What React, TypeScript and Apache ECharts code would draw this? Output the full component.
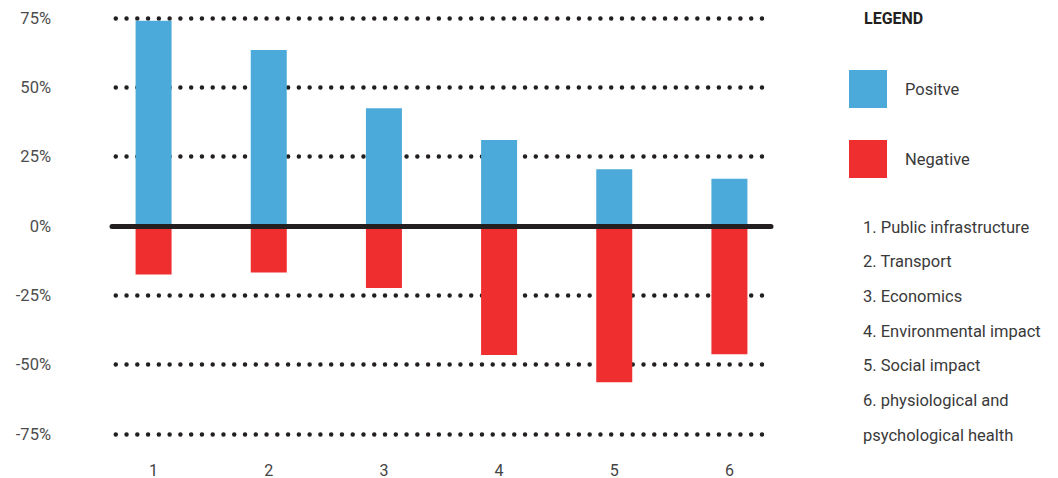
import React, { useEffect, useRef } from "react";
import * as echarts from "echarts";

const categories = ["1", "2", "3", "4", "5", "6"];
const positiveValues = [74, 63.5, 42.5, 31, 20.5, 17];
const negativeValues = [-17.5, -16.8, -22.4, -46.5, -56.3, -46.2];
const seriesNames = ["Positve", "Negative"];
const categoryDescriptions = [
  "1. Public infrastructure",
  "2. Transport",
  "3. Economics",
  "4. Environmental impact",
  "5. Social impact",
  "6. physiological and",
  "psychological health",
];

const BLUE = "#4BAAD9";
const RED = "#EE2E2F";
const DARK = "#231F20";
const FONT = "Roboto";

export default function App() {
  const ref = useRef<HTMLDivElement>(null);
  useEffect(() => {
    if (!ref.current) return;
    const chart = echarts.init(ref.current, undefined, { renderer: "svg" });
    const graphics: any[] = [
      {
        type: "text",
        left: 864,
        top: 10,
        style: {
          text: "LEGEND",
          fill: DARK,
          font: `bold 16px ${FONT}`,
        },
      },
    ];
    categoryDescriptions.forEach((t, i) => {
      graphics.push({
        type: "text",
        x: 863,
        y: 227 + i * 34.7,
        style: {
          text: t,
          fill: "#3a3a3a",
          font: `16.5px ${FONT}`,
          textVerticalAlign: "middle",
          verticalAlign: "middle",
        },
      });
    });
    chart.setOption({
      animation: false,
      textStyle: { fontFamily: FONT },
      grid: [
        { left: 112, width: 659, top: 18, height: 416 },
        { left: 96, width: 691, top: 18, height: 416 },
      ],
      legend: {
        orient: "vertical",
        left: 849,
        top: 70,
        padding: 0,
        itemWidth: 38,
        itemHeight: 38,
        itemGap: 32,
        icon: "rect",
        data: seriesNames,
        textStyle: {
          fontSize: 16.5,
          color: "#3a3a3a",
          fontFamily: FONT,
          padding: [0, 0, 0, 13],
        },
      },
      xAxis: [
        {
          type: "value",
          gridIndex: 0,
          min: 0,
          max: 1,
          z: 5,
          axisLine: { show: true, onZero: true, lineStyle: { color: DARK, width: 5 } },
          axisTick: { show: false },
          axisLabel: { show: false },
          splitLine: { show: false },
        },
        {
          type: "category",
          gridIndex: 1,
          data: categories,
          axisLine: { show: false },
          axisTick: { show: false },
          axisLabel: { fontSize: 16, color: "#444", margin: 28, fontFamily: FONT },
          splitLine: { show: false },
        },
      ],
      yAxis: [
        {
          type: "value",
          gridIndex: 0,
          min: -75,
          max: 75,
          interval: 25,
          axisLine: { show: false },
          axisTick: { show: false },
          axisLabel: {
            formatter: "{value}%",
            fontSize: 16.5,
            color: "#4d4d4d",
            margin: 61,
            fontFamily: FONT,
          },
          splitLine: {
            show: true,
            lineStyle: {
              color: DARK,
              width: 4.5,
              type: [0, 10.77],
              cap: "round",
              dashOffset: 7.27,
            },
          },
        },
        {
          type: "value",
          gridIndex: 1,
          min: -75,
          max: 75,
          interval: 25,
          show: false,
          splitLine: { show: false },
        },
      ],
      series: [
        {
          name: seriesNames[0],
          type: "bar",
          xAxisIndex: 1,
          yAxisIndex: 1,
          stack: "total",
          barWidth: 36,
          itemStyle: { color: BLUE },
          data: positiveValues,
        },
        {
          name: seriesNames[1],
          type: "bar",
          xAxisIndex: 1,
          yAxisIndex: 1,
          stack: "total",
          barWidth: 36,
          itemStyle: { color: RED },
          data: negativeValues,
        },
      ],
      graphic: graphics,
    });
    return () => chart.dispose();
  }, []);
  return (
    <div
      ref={ref}
      style={{ position: "fixed", left: 0, top: 0, width: 1058, height: 478, background: "#fff" }}
    />
  );
}
